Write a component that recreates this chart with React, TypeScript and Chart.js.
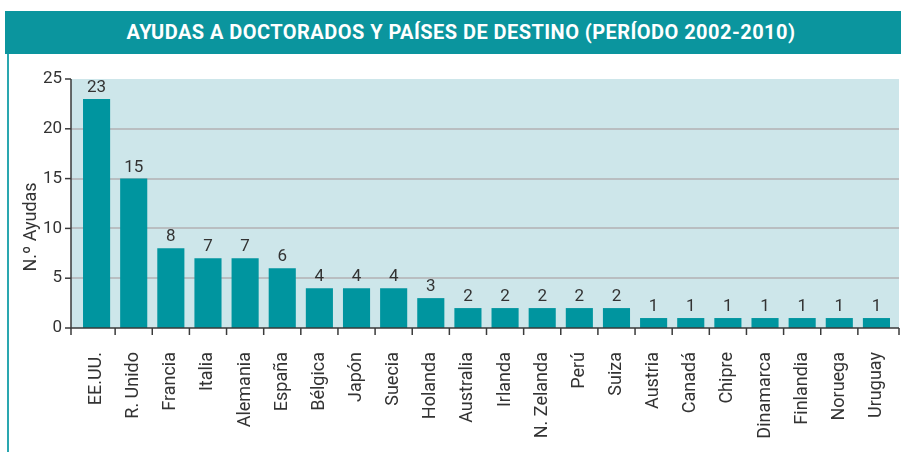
import React, { useEffect, useRef } from "react";
import { Chart, registerables } from "chart.js";

Chart.register(...registerables);

const TITLE = "AYUDAS A DOCTORADOS Y PAÍSES DE DESTINO (PERÍODO 2002-2010)";
const Y_TITLE = "N.º Ayudas";
const countries = [
  "EE.UU.", "R. Unido", "Francia", "Italia", "Alemania", "España", "Bélgica", "Japón",
  "Suecia", "Holanda", "Australia", "Irlanda", "N. Zelanda", "Perú", "Suiza", "Austria",
  "Canadá", "Chipre", "Dinamarca", "Finlandia", "Noruega", "Uruguay",
];
const ayudas = [23, 15, 8, 7, 7, 6, 4, 4, 4, 3, 2, 2, 2, 2, 2, 1, 1, 1, 1, 1, 1, 1];
const yTicks = [0, 5, 10, 15, 20, 25];

const TEAL = "#00959f";
const BG = "#cde6ea";
const GRID = "#b9bec1";
const TEXT = "#333333";
const AXIS = "#3a3a3a";

const decor = {
  id: "decor",
  beforeDraw(chart: any) {
    const { ctx, chartArea, scales } = chart;
    const y = scales.y;
    const L = chartArea.left - 7;
    const R = chartArea.right + 4;
    ctx.save();
    ctx.fillStyle = BG;
    ctx.fillRect(L, chartArea.top, R - L, chartArea.bottom - chartArea.top);
    ctx.strokeStyle = GRID;
    ctx.lineWidth = 2;
    yTicks.forEach((v) => {
      if (v === 0 || v === 25) return;
      const py = Math.round(y.getPixelForValue(v));
      ctx.beginPath();
      ctx.moveTo(L, py);
      ctx.lineTo(R, py);
      ctx.stroke();
    });
    ctx.fillStyle = TEXT;
    ctx.font = "18px Roboto";
    ctx.translate(31, 227);
    ctx.rotate(-Math.PI / 2);
    ctx.textAlign = "center";
    ctx.textBaseline = "middle";
    ctx.fillText(Y_TITLE, 0, 0);
    ctx.restore();
  },
  afterDatasetsDraw(chart: any) {
    const { ctx, chartArea, scales } = chart;
    const y = scales.y;
    const L = chartArea.left - 7;
    const R = chartArea.right + 4;
    const B = chartArea.bottom;
    ctx.save();
    ctx.strokeStyle = AXIS;
    ctx.lineWidth = 1.5;
    ctx.beginPath();
    ctx.moveTo(L, chartArea.top);
    ctx.lineTo(L, B);
    ctx.lineTo(R, B);
    ctx.stroke();
    yTicks.forEach((v) => {
      const py = y.getPixelForValue(v);
      ctx.beginPath();
      ctx.moveTo(L - 6, py);
      ctx.lineTo(L, py);
      ctx.stroke();
    });
    const xs: number[] = [L, R];
    const step = (chartArea.right - chartArea.left) / countries.length;
    for (let i = 1; i < countries.length; i++) xs.push(chartArea.left + step * i);
    xs.forEach((px) => {
      ctx.beginPath();
      ctx.moveTo(px, B);
      ctx.lineTo(px, B + 7);
      ctx.stroke();
    });
    ctx.fillStyle = TEXT;
    ctx.font = "17px Roboto";
    ctx.textAlign = "center";
    ctx.textBaseline = "alphabetic";
    const meta = chart.getDatasetMeta(0);
    meta.data.forEach((bar: any, i: number) => {
      ctx.fillText(String(ayudas[i]), bar.x, bar.y - 7);
    });
    ctx.restore();
  },
};

export default function App() {
  const ref = useRef<HTMLCanvasElement>(null);
  useEffect(() => {
    const chart = new Chart(ref.current!, {
      type: "bar",
      data: {
        labels: countries,
        datasets: [
          {
            data: ayudas,
            backgroundColor: TEAL,
            categoryPercentage: 1,
            barPercentage: 0.73,
          },
        ],
      },
      options: {
        responsive: false,
        animation: false,
        devicePixelRatio: 1,
        layout: { padding: { top: 79, right: 6, left: 0, bottom: 0 } },
        plugins: { legend: { display: false }, tooltip: { enabled: false }, title: { display: false } },
        scales: {
          x: {
            type: "category",
            offset: true,
            grid: { display: false, drawTicks: false, tickLength: 0 },
            border: { display: false },
            ticks: {
              color: TEXT,
              font: { family: "Roboto", size: 18 },
              minRotation: 90,
              maxRotation: 90,
              autoSkip: false,
              padding: 24,
            },
            afterFit: (s: any) => {
              s.height = 124;
              s.paddingLeft = 0;
              s.paddingRight = 0;
            },
          },
          y: {
            min: 0,
            max: 25,
            grid: { display: false, drawTicks: false, tickLength: 0 },
            border: { display: false },
            ticks: {
              stepSize: 5,
              color: TEXT,
              font: { family: "Roboto", size: 17 },
              padding: 16,
            },
            afterFit: (s: any) => {
              s.width = 78;
              s.paddingTop = 0;
              s.paddingBottom = 0;
            },
          },
        },
      },
      plugins: [decor],
    } as any);
    return () => chart.destroy();
  }, []);

  return (
    <div style={{ position: "fixed", left: 0, top: 0, width: 901, height: 452, background: "#fff", overflow: "hidden" }}>
      <canvas ref={ref} width={901} height={452} style={{ position: "absolute", left: 0, top: 0 }} />
      <div
        style={{
          position: "absolute",
          left: 5,
          top: 11,
          width: 896,
          height: 43,
          background: "#0b959e",
          color: "#fff",
          fontFamily: "Roboto",
          fontWeight: 700,
          fontSize: 20,
          lineHeight: "43px",
          textAlign: "center",
          paddingLeft: 16,
          boxSizing: "border-box",
          letterSpacing: 0.45,
          whiteSpace: "nowrap",
        }}
      >
        {TITLE}
      </div>
      <div style={{ position: "absolute", left: 7, top: 54, width: 2, height: 398, background: "#2aa7b0" }} />
    </div>
  );
}
